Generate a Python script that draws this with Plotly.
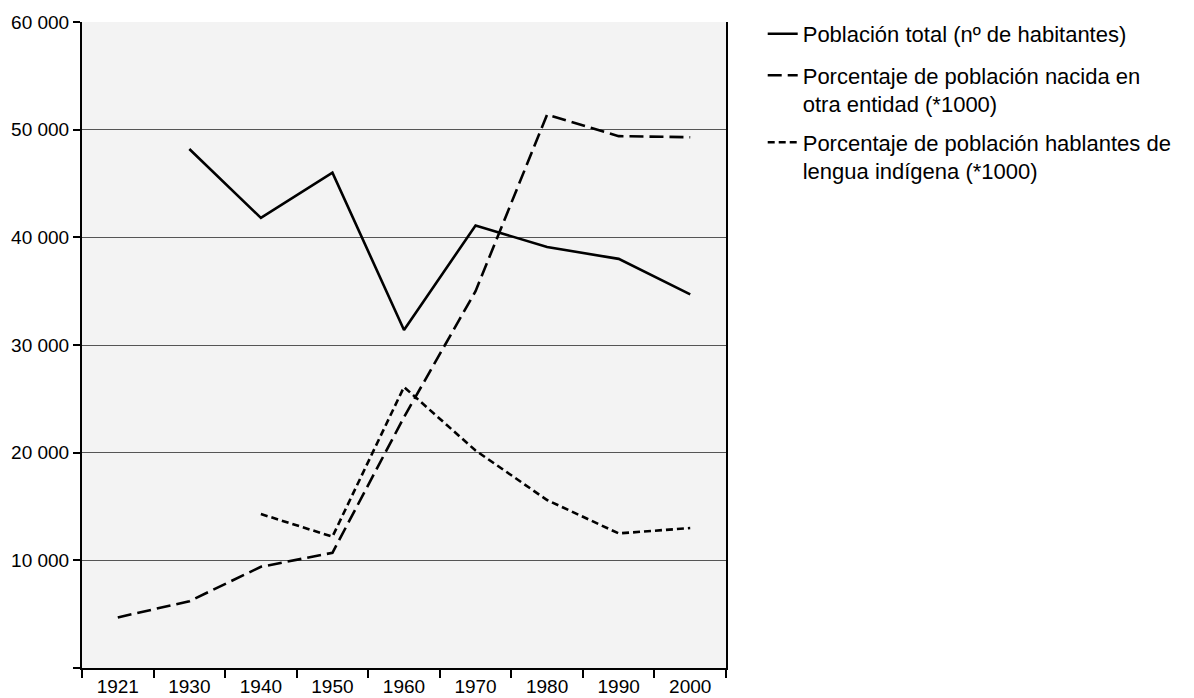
import plotly.graph_objects as go

years = ["1921", "1930", "1940", "1950", "1960", "1970", "1980", "1990", "2000"]
poblacion_total = [None, 48200, 41800, 46000, 31400, 41100, 39100, 38000, 34700]
nacida_otra_entidad = [4700, 6200, 9400, 10700, 23300, 35000, 51400, 49400, 49300]
hablantes_indigena = [None, None, 14300, 12200, 26100, 20200, 15600, 12500, 13000]

series_names = [
    "Población total (nº de habitantes)",
    "Porcentaje de población nacida en<br>otra entidad (*1000)",
    "Porcentaje de población hablantes de<br>lengua indígena (*1000)",
]

y_tickvals = [0, 10000, 20000, 30000, 40000, 50000, 60000]
y_ticktext = ["", "10 000", "20 000", "30 000", "40 000", "50 000", "60 000"]

FONT = "Liberation Sans, Arial, sans-serif"

fig = go.Figure()
fig.add_trace(go.Scatter(x=years, y=poblacion_total, mode="lines", name=series_names[0],
                         line=dict(color="black", width=2.6), legend="legend"))
fig.add_trace(go.Scatter(x=years, y=nacida_otra_entidad, mode="lines", name=series_names[1],
                         line=dict(color="black", width=2.6, dash="14px,6px"), legend="legend2"))
fig.add_trace(go.Scatter(x=years, y=hablantes_indigena, mode="lines", name=series_names[2],
                         line=dict(color="black", width=2.6, dash="7px,4px"), legend="legend3"))

leg_common = dict(
    x=1.057, xanchor="left", yanchor="middle",
    font=dict(family=FONT, size=22, color="black"),
    bgcolor="rgba(0,0,0,0)", itemwidth=30, valign="top",
)

# page body has an 8px default margin, so the figure is sized to fit the window
fig.update_layout(
    width=1186, height=690,
    margin=dict(l=74, r=468, t=14, b=30, autoexpand=False),
    paper_bgcolor="white",
    plot_bgcolor="#f3f3f3",
    font=dict(family=FONT, size=19, color="black"),
    showlegend=True,
    legend=dict(y=0.9814, **leg_common),
    legend2=dict(y=0.8947, **leg_common),
    legend3=dict(y=0.791, **leg_common),
)

fig.update_xaxes(
    type="category",
    range=[-0.5, 8.5],
    tickson="boundaries",
    ticks="outside", ticklen=8, tickwidth=2, tickcolor="black",
    showline=True, linecolor="black", linewidth=2,
    showgrid=False, zeroline=False, automargin=False,
    tickfont=dict(family=FONT, size=19, color="black"),
)
fig.update_yaxes(
    range=[0, 60000],
    tickvals=y_tickvals, ticktext=y_ticktext,
    ticks="outside", ticklen=7, tickwidth=2, tickcolor="black",
    showline=True, linecolor="black", linewidth=2, mirror=True,
    showgrid=True, gridcolor="#555555", gridwidth=1.2,
    zeroline=False, automargin=False,
    tickfont=dict(family=FONT, size=19, color="black"),
)

fig.write_html("out.html")
